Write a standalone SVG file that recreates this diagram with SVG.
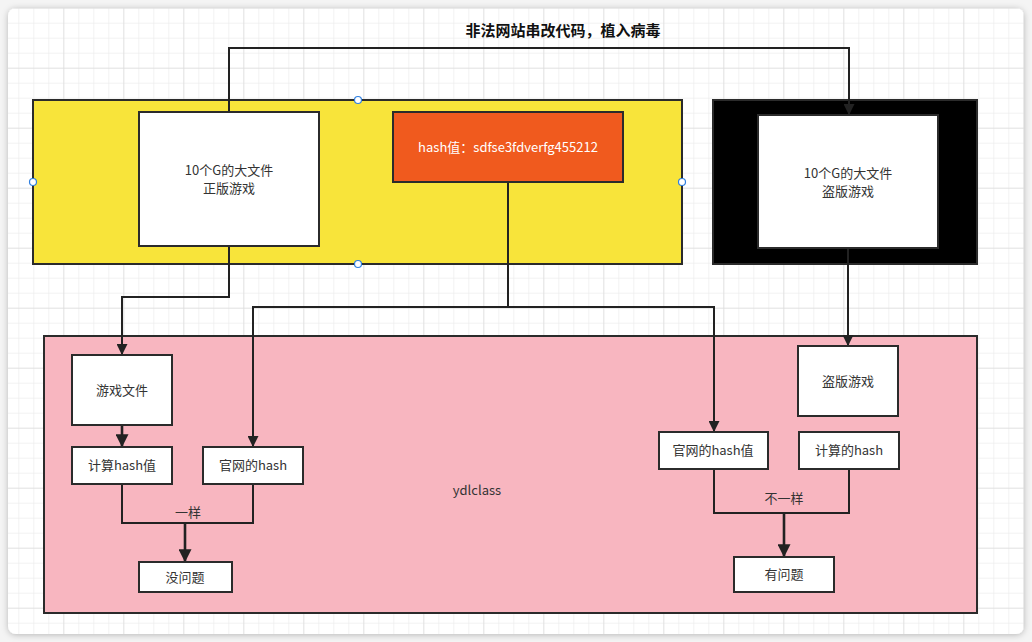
<svg xmlns="http://www.w3.org/2000/svg" width="1032" height="642" viewBox="0 0 1032 642">
<defs>
<style>
.t{font-family:"Noto Sans CJK SC","Liberation Sans",sans-serif;font-size:13px;fill:#333;text-anchor:middle;}
.box{fill:#fff;stroke:#2b2b2b;stroke-width:2;}
.ln{fill:none;stroke:#222;stroke-width:2;}
.lb{fill:none;stroke:#222;stroke-width:2.6;}
.h{fill:#fff;stroke:#2f7fe0;stroke-width:1.2;}
</style>
<pattern id="gmin" patternUnits="userSpaceOnUse" x="3.3" y="7.7" width="15" height="15">
<path d="M0 0H15M0 0V15" fill="none" stroke="#e6e6e6" stroke-width="1"/>
</pattern>
<pattern id="gmaj" patternUnits="userSpaceOnUse" x="3.3" y="7.7" width="60" height="60">
<path d="M0 0H60M0 0V60" fill="none" stroke="#d6d6d6" stroke-width="1"/>
</pattern>
<filter id="sh" x="-5%" y="-5%" width="110%" height="110%">
<feDropShadow dx="0" dy="1" stdDeviation="3" flood-color="#000" flood-opacity="0.25"/>
</filter>
<clipPath id="cc"><rect x="8" y="8" width="1016" height="626" rx="8"/></clipPath>
<marker id="ar" viewBox="0 0 10 10" refX="9" refY="5" markerWidth="11" markerHeight="11" markerUnits="userSpaceOnUse" orient="auto">
<path d="M0 0L10 5L0 10Z" fill="#222"/>
</marker>
<marker id="arb" viewBox="0 0 10 10" refX="9" refY="5" markerWidth="13" markerHeight="13" markerUnits="userSpaceOnUse" orient="auto">
<path d="M0 0L10 5L0 10Z" fill="#222"/>
</marker>
</defs>
<rect width="1032" height="642" fill="#f4f4f4"/>
<rect x="8" y="8" width="1016" height="626" rx="8" fill="#fff" filter="url(#sh)"/>
<g clip-path="url(#cc)">
<rect x="8" y="8" width="1016" height="626" fill="url(#gmin)"/>
<rect x="8" y="8" width="1016" height="626" fill="url(#gmaj)"/>
</g>
<text x="563" y="36" class="t" style="font-size:15px;font-weight:bold;fill:#111">非法网站串改代码，植入病毒</text>

<g id="group-yellow">
<rect x="33" y="100" width="649" height="164" fill="#f8e43a" stroke="#2b2b2b" stroke-width="2"/>
</g>
<g id="group-black">
<rect x="713" y="100" width="264" height="164" fill="#000" stroke="#2b2b2b" stroke-width="2"/>
</g>
<g id="group-pink">
<rect x="44" y="336" width="933" height="277" fill="#f8b6c0" stroke="#2b2b2b" stroke-width="2"/>
<text x="477" y="495" class="t">ydlclass</text>
</g>

<g id="connectors">
<path class="ln" d="M229 112V48H849V114" marker-end="url(#ar)"/>
<path class="ln" d="M229 246V297H122V354" marker-end="url(#ar)"/>
<path class="ln" d="M508 182V307H253V446" marker-end="url(#ar)"/>
<path class="ln" d="M508 307H714V431" marker-end="url(#ar)"/>
<path class="ln" d="M848 248V345" marker-end="url(#ar)"/>
<path class="lb" d="M122 425V446" marker-end="url(#arb)"/>
<path class="ln" d="M122 484V523H253V484"/>
<path class="lb" d="M185 523V561" marker-end="url(#arb)"/>
<path class="ln" d="M714 469V513H849V469"/>
<path class="lb" d="M784 513V556" marker-end="url(#arb)"/>
<text x="188" y="517" class="t">一样</text>
<text x="784" y="503" class="t">不一样</text>
</g>

<g id="orig-game">
<rect class="box" x="139" y="112" width="180" height="134"/>
<text x="229" y="175" class="t">10个G的大文件</text>
<text x="229" y="193" class="t">正版游戏</text>
</g>
<g id="hash-value">
<rect x="393" y="112" width="230" height="70" fill="#f05a1e" stroke="#2b2b2b" stroke-width="2"/>
<text x="508" y="152" class="t" style="fill:#fff">hash值：sdfse3fdverfg455212</text>
</g>
<g id="pirate-big">
<rect class="box" x="758" y="115" width="180" height="133"/>
<text x="848" y="178" class="t">10个G的大文件</text>
<text x="848" y="196" class="t">盗版游戏</text>
</g>
<g id="game-file">
<rect class="box" x="72" y="355" width="100" height="70"/>
<text x="122" y="395" class="t">游戏文件</text>
</g>
<g id="calc-hash">
<rect class="box" x="72" y="447" width="100" height="37"/>
<text x="122" y="470" class="t">计算hash值</text>
</g>
<g id="official-hash">
<rect class="box" x="203" y="447" width="100" height="37"/>
<text x="253" y="470" class="t">官网的hash</text>
</g>
<g id="no-problem">
<rect class="box" x="139" y="562" width="93" height="30"/>
<text x="185" y="582" class="t">没问题</text>
</g>
<g id="pirate-game">
<rect class="box" x="798" y="346" width="100" height="70"/>
<text x="848" y="386" class="t">盗版游戏</text>
</g>
<g id="official-hash2">
<rect class="box" x="659" y="432" width="109" height="37"/>
<text x="713" y="455" class="t">官网的hash值</text>
</g>
<g id="calc-hash2">
<rect class="box" x="799" y="432" width="100" height="37"/>
<text x="849" y="455" class="t">计算的hash</text>
</g>
<g id="has-problem">
<rect class="box" x="734" y="557" width="100" height="35"/>
<text x="784" y="579" class="t">有问题</text>
</g>

<g id="handles">
<circle class="h" cx="358" cy="100" r="3.5"/>
<circle class="h" cx="33" cy="182" r="3.5"/>
<circle class="h" cx="682" cy="182" r="3.5"/>
<circle class="h" cx="358" cy="264" r="3.5"/>
</g>
</svg>
